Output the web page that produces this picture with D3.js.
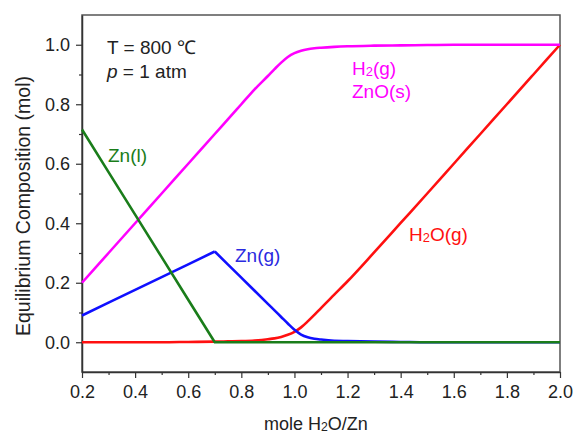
<!DOCTYPE html>
<html><head><meta charset="utf-8">
<script src="https://cdn.jsdelivr.net/npm/d3@7"></script>
<style>
body{margin:0;background:#fff;}
text{font-family:"Liberation Sans",Arial,sans-serif;}
</style></head>
<body><svg id="c" width="575" height="434"></svg>
<script>
const xs      = [0.2,0.3,0.4,0.5,0.6,0.7,0.75,0.8,0.85,0.9,0.925,0.95,0.975,1.0,1.025,1.05,1.075,1.1,1.15,1.2,1.3,1.4,1.5,1.6,1.7,1.8,1.9,2.0];
const h2      = [0.2,0.3,0.4,0.5,0.6,0.7,0.75,0.8,0.85,0.895,0.918,0.94,0.959,0.972,0.98,0.985,0.988,0.99,0.993,0.995,0.997,0.998,0.999,1,1,1,1,1];
const h2o     = [0,0,0,0,0.001,0.002,0.003,0.004,0.006,0.01,0.013,0.018,0.025,0.035,0.05,0.07,0.092,0.115,0.16,0.205,0.302,0.401,0.5,0.6,0.7,0.8,0.9,1.0];
const zng     = [0.09,0.133,0.176,0.219,0.262,0.305,0.261,0.217,0.173,0.129,0.107,0.085,0.063,0.042,0.026,0.017,0.012,0.009,0.005,0.004,0.002,0.001,0,0,0,0,0,0];
const znl     = [0.715,0.572,0.429,0.286,0.143,0,0,0,0,0,0,0,0,0,0,0,0,0,0,0,0,0,0,0,0,0,0,0];
const xTicks  = [0.2,0.4,0.6,0.8,1.0,1.2,1.4,1.6,1.8,2.0];
const xMinor  = [0.3,0.5,0.7,0.9,1.1,1.3,1.5,1.7,1.9];
const yTicks  = [0.0,0.2,0.4,0.6,0.8,1.0];
const yMinor  = [0.1,0.3,0.5,0.7,0.9];

const svg = d3.select("#c");
const L=82,R=560,T=15,B=372;
const x = d3.scaleLinear().domain([0.2,2.0]).range([L,R]);
const y = d3.scaleLinear().domain([-0.1,1.1]).range([B,T]);

svg.append("rect").attr("x",L).attr("y",T).attr("width",R-L).attr("height",B-T)
  .attr("fill","none").attr("stroke","#555").attr("stroke-width",1.5);

const fmt = d3.format(".1f");
svg.append("g").attr("transform",`translate(0,${B})`)
  .call(d3.axisBottom(x).tickValues(xTicks).tickFormat(fmt).tickSize(6).tickSizeOuter(0).tickPadding(7));
svg.append("g").attr("transform",`translate(0,${B})`)
  .call(d3.axisBottom(x).tickValues(xMinor).tickFormat("").tickSize(3).tickSizeOuter(0))
  .select(".domain").remove();
svg.append("g").attr("transform",`translate(${L},0)`)
  .call(d3.axisLeft(y).tickValues(yTicks).tickFormat(fmt).tickSize(6).tickSizeOuter(0).tickPadding(6));
svg.append("g").attr("transform",`translate(${L},0)`)
  .call(d3.axisLeft(y).tickValues(yMinor).tickFormat("").tickSize(3).tickSizeOuter(0))
  .select(".domain").remove();
svg.selectAll(".tick line").attr("stroke","#333").attr("stroke-width",1.2);
svg.selectAll(".domain").attr("stroke","#333").attr("stroke-width",1.5);
svg.selectAll(".tick text").attr("font-size",18).attr("fill","#222")
  .attr("font-family","Liberation Sans, Arial, sans-serif");

const pts = v => xs.map((xv,i)=>[xv,v[i]]);
const lin = d3.line().x(d=>x(d[0])).y(d=>y(d[1]));
const mono = d3.line().x(d=>x(d[0])).y(d=>y(d[1])).curve(d3.curveMonotoneX);
function draw(data, gen, c){
  svg.append("path").datum(data).attr("d",gen).attr("fill","none").attr("stroke",c)
    .attr("stroke-width",2.6).attr("stroke-linejoin","round");
}
const peak = xs.indexOf(0.7);
draw(pts(h2o), mono, "#ff1010");
draw(pts(h2), mono, "#ff00ff");
draw(pts(zng).slice(0,peak+1), lin, "#1010ff");
draw(pts(zng).slice(peak), mono, "#1010ff");
draw(pts(znl), lin, "#1a7d1a");

function lab(px,py,parts,color,size){
  const t = svg.append("text").attr("x",px).attr("y",py).attr("fill",color).attr("font-size",size);
  parts.forEach(p=>{
    const ts = t.append("tspan").text(p.t);
    if(p.sub){ ts.attr("font-size",size*0.68).attr("dy",1); }
    else if(p.after){ ts.attr("dy",-1); }
    if(p.it) ts.attr("font-style","italic");
  });
  return t;
}
lab(107,54,[{t:"T = 800 ℃"}],"#222",19);
lab(107,78,[{t:"p",it:true},{t:" = 1 atm"}],"#222",19);
lab(108,162,[{t:"Zn(l)"}],"#1a7d1a",19);
lab(235,262,[{t:"Zn(g)"}],"#2a2ae0",19);
lab(352,75,[{t:"H"},{t:"2",sub:true},{t:"(g)",after:true}],"#ff00ff",19);
lab(352,98,[{t:"ZnO(s)"}],"#ff00ff",19);
lab(409,241,[{t:"H"},{t:"2",sub:true},{t:"O(g)",after:true}],"#ff1010",19);

lab(264,430,[{t:"mole H"},{t:"2",sub:true},{t:"O/Zn",after:true}],"#222",18);
svg.append("text").attr("transform","translate(30,206) rotate(-90)")
  .attr("text-anchor","middle").attr("font-size",19.5).attr("fill","#222")
  .text("Equilibrium Composition (mol)");
</script></body></html>
